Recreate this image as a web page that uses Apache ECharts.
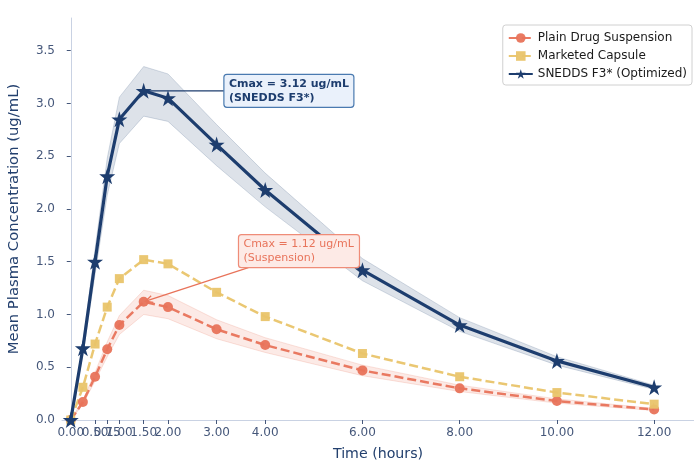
<!DOCTYPE html>
<html><head><meta charset="utf-8">
<script src="https://cdn.jsdelivr.net/npm/echarts@6/dist/echarts.min.js"></script>
<style>html,body{margin:0;padding:0;background:#fff;overflow:hidden}#c{width:694px;height:461px}</style>
</head><body><div id="c"></div>
<script>
const timeHours = [0, 0.25, 0.5, 0.75, 1, 1.5, 2, 3, 4, 6, 8, 10, 12];
const xTickLabels = ['0.00','0.25','0.50','0.75','1.00','1.50','2.00','3.00','4.00','6.00','8.00','10.00','12.00'];
const yTicks = [0, 0.5, 1.0, 1.5, 2.0, 2.5, 3.0, 3.5];
const seriesNames = ['Plain Drug Suspension', 'Marketed Capsule', 'SNEDDS F3* (Optimized)'];
const suspension     = [0, 0.17, 0.41, 0.67, 0.90, 1.12, 1.07, 0.86, 0.71, 0.47, 0.30, 0.18, 0.10];
const suspensionLow  = [0, 0.15, 0.37, 0.60, 0.81, 1.00, 0.96, 0.77, 0.64, 0.42, 0.27, 0.16, 0.09];
const suspensionHigh = [0, 0.19, 0.45, 0.74, 0.99, 1.23, 1.18, 0.95, 0.78, 0.52, 0.33, 0.20, 0.11];
const capsule        = [0, 0.31, 0.72, 1.07, 1.34, 1.52, 1.48, 1.21, 0.98, 0.63, 0.41, 0.26, 0.15];
const snedds         = [0, 0.68, 1.50, 2.31, 2.85, 3.12, 3.05, 2.61, 2.18, 1.42, 0.90, 0.56, 0.31];
const sneddsLow      = [0, 0.62, 1.38, 2.13, 2.62, 2.88, 2.83, 2.41, 2.02, 1.32, 0.84, 0.52, 0.29];
const sneddsHigh     = [0, 0.74, 1.62, 2.48, 3.06, 3.35, 3.28, 2.80, 2.34, 1.53, 0.97, 0.60, 0.33];
const annSnedds = {x: 3.15, y: 3.12, px: 1.5, py: 3.12, text: 'Cmax = 3.12 ug/mL\n(SNEDDS F3*)'};
const annSusp   = {x: 3.45, y: 1.60, px: 1.5, py: 1.12, text: 'Cmax = 1.12 ug/mL\n(Suspension)'};

const C_SUSP = '#E8735A', C_CAP = '#E9C46A', C_SNEDDS = '#1D3D6E';
const STAR = 'path://M50,0 L61.2,34.5 L97.6,34.5 L68.2,55.9 L79.4,90.5 L50,69.1 L20.6,90.5 L31.8,55.9 L2.4,34.5 L38.8,34.5 Z';
const pairs = arr => timeHours.map((t, i) => [t, arr[i]]);

function band(low, high, fill, edge) {
  return {
    type: 'custom', silent: true, z: 1, clip: true,
    data: [[0, 0]],
    renderItem: (params, api) => {
      const pts = [];
      for (let i = 0; i < timeHours.length; i++) pts.push(api.coord([timeHours[i], high[i]]));
      for (let i = timeHours.length - 1; i >= 0; i--) pts.push(api.coord([timeHours[i], low[i]]));
      return {type: 'polygon', shape: {points: pts}, style: {fill: fill, stroke: edge, lineWidth: 0.8}};
    }
  };
}

const axisCol = '#c9d2e3', labCol = '#45577a', nameCol = '#23406e';
const chart = echarts.init(document.getElementById('c'), null, {renderer: 'canvas', width: 694, height: 461});
chart.setOption({
  animation: false,
  backgroundColor: '#fff',
  grid: {left: 62, right: 0, top: 18, bottom: 41, containLabel: false, outerBoundsMode: 'none'},
  legend: {
    data: seriesNames, orient: 'vertical', right: 2, top: 25,
    backgroundColor: '#fff', borderColor: '#d0d0d0', borderWidth: 1, borderRadius: 3,
    padding: [7, 5, 5, 5], itemGap: 6, itemWidth: 24, itemHeight: 12,
    textStyle: {fontFamily: 'DejaVu Sans', fontSize: 12, color: '#1a1a1a'}
  },
  xAxis: {
    type: 'value', min: -0.18, max: 12.82,
    name: 'Time (hours)', nameLocation: 'middle', nameGap: 27,
    nameTextStyle: {fontFamily: 'DejaVu Sans', fontSize: 14.2, color: nameCol},
    axisLine: {show: true, lineStyle: {color: axisCol, width: 1}},
    axisTick: {show: true, length: 4, customValues: timeHours, lineStyle: {color: labCol}},
    axisLabel: {customValues: timeHours, formatter: v => xTickLabels[timeHours.indexOf(v)] || '',
      showMinLabel: true, showMaxLabel: true,
      fontFamily: 'DejaVu Sans', fontSize: 12, color: labCol, margin: 7, hideOverlap: false},
    splitLine: {show: false}
  },
  yAxis: {
    type: 'value', min: 0, max: 3.81,
    name: 'Mean Plasma Concentration (ug/mL)', nameLocation: 'middle', nameGap: 40,
    nameTextStyle: {fontFamily: 'DejaVu Sans', fontSize: 14.8, color: nameCol},
    axisLine: {show: true, lineStyle: {color: axisCol, width: 1}},
    axisTick: {show: true, length: 4, customValues: yTicks, lineStyle: {color: labCol}},
    axisLabel: {customValues: yTicks, formatter: v => v.toFixed(1), showMinLabel: true,
      fontFamily: 'DejaVu Sans', fontSize: 12, color: labCol, margin: 7},
    splitLine: {show: false}
  },
  series: [
    band(suspensionLow, suspensionHigh, 'rgba(232,115,90,0.15)', 'rgba(232,115,90,0.25)'),
    band(sneddsLow, sneddsHigh, 'rgba(29,61,110,0.15)', 'rgba(29,61,110,0.22)'),
    {name: seriesNames[0], type: 'line', z: 3, data: pairs(suspension), color: C_SUSP,
      symbol: 'circle', symbolSize: 10, showAllSymbol: true,
      lineStyle: {type: [9, 4], width: 2.5, color: C_SUSP, opacity: 0.95},
      itemStyle: {color: C_SUSP, opacity: 0.95}},
    {name: seriesNames[1], type: 'line', z: 3, data: pairs(capsule), color: C_CAP,
      symbol: 'rect', symbolSize: 9, showAllSymbol: true,
      lineStyle: {type: [9, 4], width: 2.5, color: C_CAP, opacity: 0.95},
      itemStyle: {color: C_CAP, opacity: 0.95}},
    {name: seriesNames[2], type: 'line', z: 4, data: pairs(snedds), color: C_SNEDDS,
      symbol: STAR, symbolSize: 16, showAllSymbol: true,
      lineStyle: {type: 'solid', width: 3.2, color: C_SNEDDS},
      itemStyle: {color: C_SNEDDS}}
  ]
});

function annotation(a, opt) {
  const p = chart.convertToPixel({gridIndex: 0}, [a.x, a.y]);
  const t = chart.convertToPixel({gridIndex: 0}, [a.px, a.py]);
  const left = p[0], top = p[1] - opt.h / 2, w = opt.w, h = opt.h;
  const cx = left + w / 2, cy = top + h / 2;
  const dx = t[0] - cx, dy = t[1] - cy;
  let s = Infinity;
  if (dx !== 0) s = Math.min(s, (w / 2) / Math.abs(dx));
  if (dy !== 0) s = Math.min(s, (h / 2) / Math.abs(dy));
  const sx = cx + dx * s, sy = cy + dy * s;
  const len = Math.hypot(t[0] - sx, t[1] - sy);
  const ux = (t[0] - sx) / len, uy = (t[1] - sy) / len;
  const ex = t[0] - ux * 3, ey = t[1] - uy * 3;
  const els = [
    {type: 'line', z: 50, shape: {x1: sx, y1: sy, x2: ex, y2: ey}, style: {stroke: opt.line, lineWidth: 1.3}},
    {type: 'rect', z: 51, shape: {x: left, y: top, width: w, height: h, r: 3},
      style: {fill: opt.fill, stroke: opt.border, lineWidth: 1.2}},
    {type: 'text', z: 52, x: left + 5, y: cy,
      style: {text: a.text, fill: opt.color, font: opt.font, verticalAlign: 'middle', lineHeight: 14}}
  ];
  if (opt.head) {
    const hx = t[0] - ux * 2, hy = t[1] - uy * 2;
    const bx = hx - ux * 7, by = hy - uy * 7;
    els.push({type: 'polyline', z: 50, shape: {points: [[bx - uy * 3.5, by + ux * 3.5], [hx, hy], [bx + uy * 3.5, by - ux * 3.5]]},
      style: {stroke: opt.line, lineWidth: 1.3, fill: null}});
  }
  return els;
}

const g = [].concat(
  annotation(annSnedds, {w: 130, h: 33, fill: '#eaf1fb', border: '#4a7ab0', line: C_SNEDDS, color: C_SNEDDS,
    font: 'bold 11px "DejaVu Sans"', head: false}),
  annotation(annSusp, {w: 121, h: 33, fill: '#fdeae6', border: '#ef8c78', line: C_SUSP, color: C_SUSP,
    font: '11px "DejaVu Sans"', head: true})
);
chart.setOption({graphic: {elements: g}});
</script>
</body></html>
